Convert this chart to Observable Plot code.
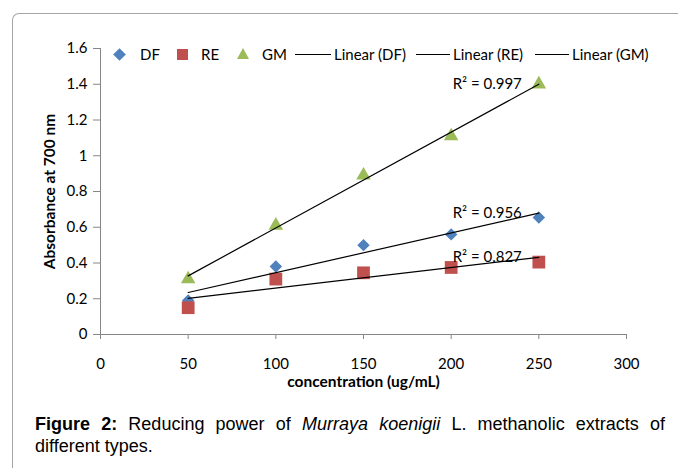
<!DOCTYPE html>
<html><head><meta charset="utf-8">
<script src="https://cdn.jsdelivr.net/npm/d3@7"></script>
<script src="https://cdn.jsdelivr.net/npm/@observablehq/plot@0.6"></script>
<style>
body{margin:0;width:678px;height:468px;position:relative;overflow:hidden;background:#fff;font-family:Lato,sans-serif}
#frame{position:absolute;left:12px;top:13px;width:700px;height:500px;border-left:1px solid #a6a6a6;border-top:1px solid #a6a6a6;border-top-left-radius:7px;box-sizing:border-box}
#chart{position:absolute;left:0;top:0}
#legend{position:absolute;top:45px;left:0;width:678px;height:18px;font-size:15px;white-space:nowrap;color:#000}
#legend > span{position:absolute;top:0;height:18px;line-height:18px}
#legend .dia{width:9px;height:9px;transform:rotate(45deg);top:4.5px;height:9px}
#legend .sq{width:11px;height:11px;top:3.5px}
#legend .tri{width:0;height:0;border-left:6px solid transparent;border-right:6px solid transparent;border-bottom:11px solid #9BBB59;top:3px}
#legend .ln{height:0;border-top:1.2px solid #000;top:9px}
#caption{position:absolute;left:35px;top:413px;width:630px;font:18px/22px "Liberation Sans",Arial,sans-serif;color:#000}
#caption div{text-align:justify;text-align-last:justify}
#caption div.last{text-align:left;text-align-last:left}
</style></head>
<body>
<div id="frame"></div>
<div id="chart"></div>
<div id="legend"></div>
<div id="caption"><div><b>Figure 2:</b>&nbsp;Reducing power of <i>Murraya koenigii</i>&nbsp;L. methanolic extracts of</div><div class="last">different types.</div></div>
<script>
// ---- data ----
const concentration = [50, 100, 150, 200, 250];
const seriesNames = ["DF", "RE", "GM"];
const dfValues = [0.19, 0.38, 0.50, 0.56, 0.655];
const reValues = [0.15, 0.31, 0.345, 0.375, 0.405];
const gmValues = [0.31, 0.61, 0.89, 1.11, 1.40];
const r2Labels = ["R² = 0.956", "R² = 0.827", "R² = 0.997"];
const trendNames = ["Linear (DF)", "Linear (RE)", "Linear (GM)"];
const xTicks = [0, 50, 100, 150, 200, 250, 300];
const yTicks = [0, 0.2, 0.4, 0.6, 0.8, 1, 1.2, 1.4, 1.6];
const xTitle = "concentration (ug/mL)";
const yTitle = "Absorbance at 700 nm";
const colors = ["#4F81BD", "#C0504D", "#9BBB59"];
const symbols = ["diamond2", "square", "triangle"];
const radii = [5.6, 7.2, 5.4];

// ---- build ----
const valuesBySeries = [dfValues, reValues, gmValues];
const rows = seriesNames.flatMap((s, i) => concentration.map((c, j) => ({series: s, x: c, y: valuesBySeries[i][j]})));

function fitAt(xs, ys, x) {
  const mx = d3.mean(xs), my = d3.mean(ys);
  const sxy = d3.sum(xs, (v, k) => (v - mx) * (ys[k] - my));
  const sxx = d3.sum(xs, v => (v - mx) ** 2);
  return my + (sxy / sxx) * (x - mx);
}
const lastX = concentration[concentration.length - 1];
const labelRows = seriesNames.map((s, i) => ({x: lastX, y: fitAt(concentration, valuesBySeries[i], lastX), text: r2Labels[i]}));

const axisGray = "#868686";
const chart = Plot.plot({
  width: 678, height: 400,
  marginLeft: 100, marginRight: 52, marginTop: 48, marginBottom: 66,
  x: {domain: [0, 300]},
  y: {domain: [0, 1.6]},
  style: {fontFamily: "Lato, sans-serif", fontSize: "15px", color: "#000", background: "transparent", overflow: "visible"},
  marks: [
    Plot.axisY({ticks: yTicks, tickSize: 7, tickPadding: 6, tickFormat: d => String(+d.toFixed(1)), stroke: axisGray, label: null, fontSize: 15}),
    Plot.axisX({ticks: xTicks, tickSize: 5, tickPadding: 19, tickFormat: d => String(d), stroke: axisGray, label: null, fontSize: 15}),
    Plot.ruleY([0], {stroke: axisGray}),
    Plot.ruleX([0], {stroke: axisGray}),
    ...seriesNames.map((s, i) => Plot.dot(rows.filter(d => d.series === s), {x: "x", y: "y", symbol: () => symbols[i], fill: colors[i], r: radii[i], stroke: "none"})),
    Plot.linearRegressionY(rows, {x: "x", y: "y", z: "series", stroke: "#000", strokeWidth: 1.2, ci: 0}),
    Plot.text(labelRows, {x: "x", y: "y", text: "text", textAnchor: "end", dx: -17, fontSize: 15}),
    Plot.text([yTitle], {frameAnchor: "left", textAnchor: "middle", rotate: -90, dx: -50, fontWeight: "bold", fontSize: 15.5}),
    Plot.text([xTitle], {frameAnchor: "bottom", textAnchor: "middle", dy: 52, fontWeight: "bold", fontSize: 15.5})
  ]
});
document.getElementById("chart").append(chart);

// ---- legend (layout positions only) ----
const legend = document.getElementById("legend");
const symLeft = [115, 177, 237];
const symTextLeft = [140, 201, 262];
const lineLeft = [295, 416, 535];
const lineTextLeft = [334, 453, 572];
const symClass = ["dia", "sq", "tri"];
function add(cls, left, text, style) {
  const el = document.createElement("span");
  if (cls) el.className = cls;
  el.style.left = left + "px";
  if (text) el.textContent = text;
  Object.assign(el.style, style || {});
  legend.append(el);
}
seriesNames.forEach((s, i) => {
  add(symClass[i], symLeft[i], null, i < 2 ? {background: colors[i]} : {});
  add(null, symTextLeft[i], s);
});
trendNames.forEach((n, i) => {
  add("ln", lineLeft[i], null, {width: (lineTextLeft[i] - lineLeft[i] - 3) + "px"});
  add(null, lineTextLeft[i], n);
});
</script>
</body></html>
